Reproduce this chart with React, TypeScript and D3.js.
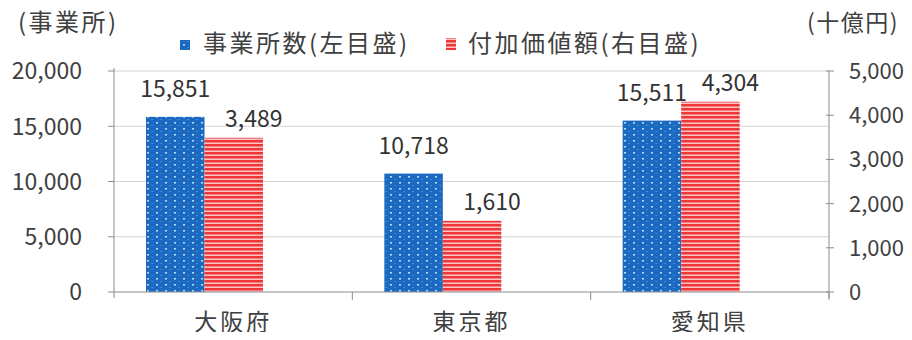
import * as d3 from 'd3'
import React from 'react'

const categories = ['大阪府', '東京都', '愛知県']
const establishments = [15851, 10718, 15511]
const valueAdded = [3489, 1610, 4304]
const leftTicks = [0, 5000, 10000, 15000, 20000]
const rightTicks = [0, 1000, 2000, 3000, 4000, 5000]
const seriesNames = ['事業所数(左目盛)', '付加価値額(右目盛)']
const unitLeft = '(事業所)'
const unitRight = '(十億円)'

const W = 912
const H = 340
const FONT = '"Noto Sans CJK JP", "Noto Sans", sans-serif'
const TXT = '#404040'
const AXIS = '#8c8c8c'

export default function App() {
  const left = 114
  const right = 829
  const top = 71
  const bottom = 292

  const x = d3.scaleBand<string>().domain(categories).range([left, right])
  const yL = d3.scaleLinear().domain([0, 20000]).range([bottom, top])
  const yR = d3.scaleLinear().domain([0, 5000]).range([bottom, top])
  // bars sit left of the category centre, like the original
  const inner = d3.scaleBand<string>().domain(['a', 'b']).range([0, 117])
  const fmt = d3.format(',')
  const groupX = (c: string) => x(c)! + 32
  const bw = inner.bandwidth()

  return (
    <div style={{ margin: -8, overflow: 'hidden', height: H }}>
      <svg width={W} height={H} style={{ display: 'block', fontFamily: FONT }}>
        <defs>
          <pattern id="dots" width={9} height={6} patternUnits="userSpaceOnUse">
            <rect width={9} height={6} fill="#1b69c0" />
            <rect x={3} y={2} width={2} height={1.6} fill="#b3dbf8" />
            <rect x={7.5} y={5} width={1.2} height={1} fill="#5f9fe0" />
          </pattern>
          <pattern id="stripes" width={8} height={4} patternUnits="userSpaceOnUse">
            <rect width={8} height={4} fill="#ef3636" />
            <rect y={2.5} width={8} height={1.5} fill="#fbc4c4" />
          </pattern>
        </defs>
        <rect width={W} height={H} fill="#fff" />

        {leftTicks.slice(1).map((t) => (
          <line key={t} x1={left} x2={right} y1={yL(t)} y2={yL(t)} stroke="#d4d4d4" strokeWidth={1} />
        ))}

        {categories.map((c, i) => (
          <g key={c}>
            <rect
              x={groupX(c) + inner('a')!}
              y={yL(establishments[i])}
              width={bw}
              height={bottom - yL(establishments[i])}
              fill="url(#dots)"
            />
            <rect
              x={groupX(c) + inner('b')!}
              y={yR(valueAdded[i])}
              width={bw}
              height={bottom - yR(valueAdded[i])}
              fill="url(#stripes)"
            />
            <text
              x={groupX(c) + inner('a')! + bw / 2}
              y={yL(establishments[i]) - 20}
              textAnchor="middle"
              fontSize={23}
              fill="#333"
            >
              {fmt(establishments[i])}
            </text>
            <text
              x={groupX(c) + inner('b')! + bw / 2 + 20}
              y={yR(valueAdded[i]) - 11}
              textAnchor="middle"
              fontSize={23}
              fill="#333"
            >
              {fmt(valueAdded[i])}
            </text>
          </g>
        ))}

        {/* axes */}
        <line x1={left} x2={left} y1={top - 3} y2={bottom + 6} stroke={AXIS} />
        <line x1={right} x2={right} y1={top} y2={bottom + 6} stroke={AXIS} />
        <line x1={left} x2={right} y1={bottom} y2={bottom} stroke={AXIS} />
        {leftTicks.map((t) => (
          <g key={t}>
            <line x1={left - 6} x2={left} y1={yL(t)} y2={yL(t)} stroke={AXIS} />
            <text x={82} y={yL(t)} dy="0.36em" textAnchor="end" fontSize={23} fill={TXT}>
              {fmt(t)}
            </text>
          </g>
        ))}
        {rightTicks.map((t) => (
          <g key={t}>
            <line x1={right - 3} x2={right + 5} y1={yR(t)} y2={yR(t)} stroke={AXIS} />
            <text x={849} y={yR(t)} dy="0.36em" textAnchor="start" fontSize={22} fill={TXT}>
              {fmt(t)}
            </text>
          </g>
        ))}
        {categories.map((c) => (
          <g key={c}>
            <line x1={x(c)! + x.bandwidth()} x2={x(c)! + x.bandwidth()} y1={bottom} y2={bottom + 8} stroke={AXIS} />
            <text
              x={x(c)! + x.bandwidth() / 2}
              y={bottom + 38}
              textAnchor="middle"
              fontSize={23}
              letterSpacing={3}
              fill={TXT}
            >
              {c}
            </text>
          </g>
        ))}

        <text x={18} y={31} fontSize={24} letterSpacing={2.5} fill={TXT}>{unitLeft}</text>
        <text x={807} y={31} fontSize={23} letterSpacing={1.5} fill={TXT}>{unitRight}</text>

        {/* legend */}
        <rect x={180} y={40} width={10} height={10} fill="url(#dots)" />
        <text x={203} y={52} fontSize={24} letterSpacing={2.5} fill={TXT}>{seriesNames[0]}</text>
        <rect x={446} y={38} width={10} height={12} fill="url(#stripes)" />
        <text x={468} y={52} fontSize={24} letterSpacing={2.5} fill={TXT}>{seriesNames[1]}</text>
      </svg>
    </div>
  )
}
